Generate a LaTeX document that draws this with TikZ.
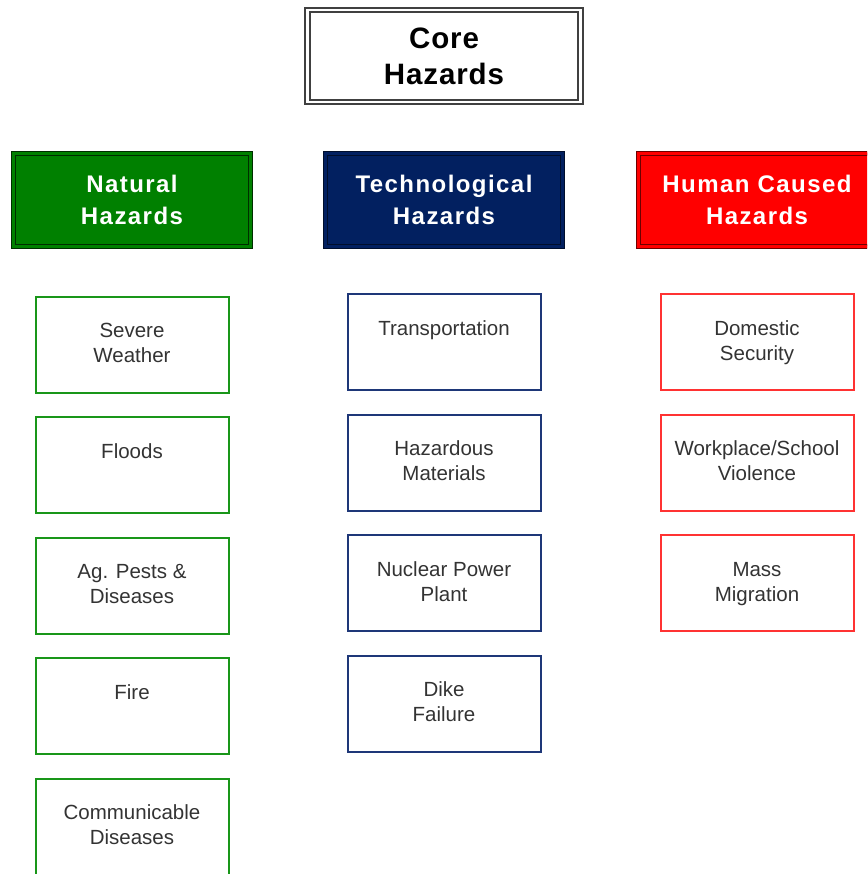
\documentclass[tikz,border=0pt]{standalone}
\usepackage{fontspec}
\setmainfont{Liberation Sans}
\newfontfamily\hdfont[LetterSpace=6]{Liberation Sans}
\newfontfamily\corefont[LetterSpace=3]{Liberation Sans}
\usepackage{xcolor}
\usepackage{tikz}
\usetikzlibrary{positioning}
\definecolor{natgreen}{RGB}{0,128,0}
\definecolor{natdark}{RGB}{0,45,0}
\definecolor{technavy}{RGB}{2,32,96}
\definecolor{techdark}{RGB}{0,14,44}
\definecolor{humred}{RGB}{255,0,0}
\definecolor{humdark}{RGB}{110,0,0}
\definecolor{natline}{RGB}{25,150,25}
\definecolor{techline}{RGB}{30,55,120}
\definecolor{humline}{RGB}{255,50,50}
\colorlet{txtgray}{black!80}
\newcommand\boxtxt[1]{\parbox[c][96pt][t]{190pt}{\centering\rule{0pt}{41pt}#1}}
\tikzstyle{corebox}=[draw=black!75,double=white,line width=1.7pt,double distance=2.8pt,inner sep=0pt,outer sep=0pt,minimum width=273pt,minimum height=92pt,align=center,font=\corefont\bfseries\fontsize{29.5}{36}\selectfont]
\tikzstyle{headbox}=[line width=1.8pt,double distance=2.2pt,inner sep=0pt,outer sep=0pt,minimum width=237pt,minimum height=93pt,align=center,text=white,font=\hdfont\bfseries\fontsize{24}{32}\selectfont]
\tikzstyle{hazbox}=[draw,line width=2pt,inner sep=0pt,outer sep=0pt,minimum width=193pt,minimum height=96pt,text=txtgray,font=\fontsize{20.5}{25}\selectfont]
\tikzstyle{natbox}=[hazbox,draw=natline]
\tikzstyle{techbox}=[hazbox,draw=techline]
\tikzstyle{humbox}=[hazbox,draw=humline]
\begin{document}
\begin{tikzpicture}[x=1pt,y=-1pt]
	\clip (0,0) rectangle (867,874);
	\node[corebox] (core) at (444,56) {Core\\Hazards};
	\node[headbox,draw=natdark,double=natgreen,fill=natgreen] (nat) at (132,200) {Natural\\Hazards};
	\node[headbox,draw=techdark,double=technavy,fill=technavy] (tech) at (444,200) {Technological\\Hazards};
	\node[headbox,draw=humdark,double=humred,fill=humred] (hum) at (757,200) {Human Caused\\Hazards};
	% natural
	\node[natbox,below=50pt of nat] (nat1) {\boxtxt{Severe\\Weather}};
	\node[natbox,below=24.5pt of nat1] (nat2) {\boxtxt{Floods}};
	\node[natbox,below=24.5pt of nat2] (nat3) {\boxtxt{Ag. Pests \&\\Diseases}};
	\node[natbox,below=24.5pt of nat3] (nat4) {\boxtxt{Fire}};
	\node[natbox,below=24.5pt of nat4] (nat5) {\boxtxt{Communicable\\Diseases}};
	% technological
	\node[techbox,below=47.5pt of tech] (tech1) {\boxtxt{Transportation}};
	\node[techbox,below=24.5pt of tech1] (tech2) {\boxtxt{Hazardous\\Materials}};
	\node[techbox,below=24.5pt of tech2] (tech3) {\boxtxt{Nuclear Power\\Plant}};
	\node[techbox,below=24.5pt of tech3] (tech4) {\boxtxt{Dike\\Failure}};
	% human caused
	\node[humbox,below=47.5pt of hum] (hum1) {\boxtxt{Domestic\\Security}};
	\node[humbox,below=24.5pt of hum1] (hum2) {\boxtxt{Workplace/School\\Violence}};
	\node[humbox,below=24.5pt of hum2] (hum3) {\boxtxt{Mass\\Migration}};
\end{tikzpicture}
\end{document}
